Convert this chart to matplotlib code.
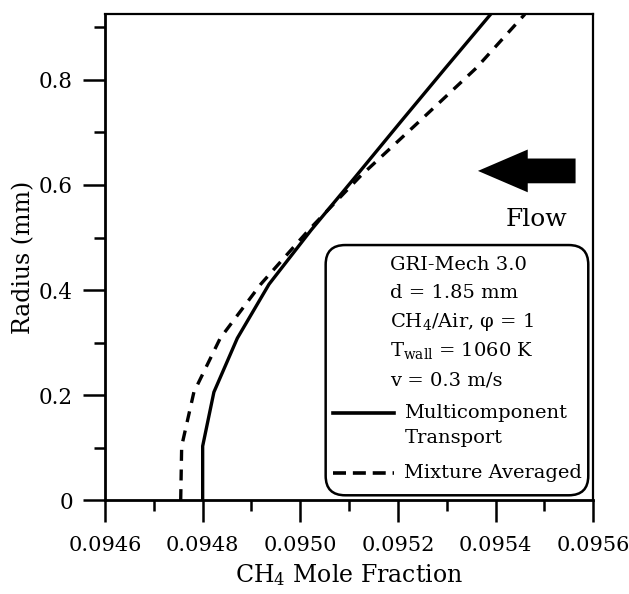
import numpy as np
import matplotlib
matplotlib.use("Agg")
import matplotlib.pyplot as plt
import matplotlib.patches as mpatches
from matplotlib.ticker import FixedLocator, FuncFormatter

plt.rcParams['font.family'] = ['DejaVu Serif']
plt.rcParams['mathtext.fontset'] = 'dejavuserif'

# radial grid points (tube radius 0.925 mm)
radius = [0.0, 0.1028, 0.2056, 0.3083, 0.4111, 0.5139, 0.6167, 0.7194, 0.8222, 0.925]
# CH4 mole fraction, multicomponent transport
ch4_multi = [0.09480, 0.09480, 0.094823, 0.094871, 0.094936, 0.095022, 0.095114, 0.095205, 0.095297, 0.09539]
# CH4 mole fraction, mixture averaged
ch4_mix = [0.094755, 0.094757, 0.094782, 0.094836, 0.094919, 0.095017, 0.095123, 0.095242, 0.095360, 0.09546]

x_ticks = [0.0946, 0.0948, 0.0950, 0.0952, 0.0954, 0.0956]
y_ticks = [0, 0.2, 0.4, 0.6, 0.8]

info_lines = ['GRI-Mech 3.0', 'd = 1.85 mm', 'CH$_4$/Air, \u03c6 = 1',
              'T$_{\\rm wall}$ = 1060 K', 'v = 0.3 m/s']

fig = plt.figure(figsize=(6.29, 5.94), dpi=100)
ax = fig.add_axes([0.167, 0.158, 0.776, 0.818])

ax.plot(ch4_multi, radius, color='black', lw=2.4, solid_joinstyle='miter')
ax.plot(ch4_mix, radius, color='black', lw=2.4, linestyle=(0, (3.3, 2.6)))

ax.set_xlim(0.0946, 0.0956)
ax.set_ylim(0, 0.925)

ax.xaxis.set_major_locator(FixedLocator(x_ticks))
ax.xaxis.set_minor_locator(FixedLocator([0.0947, 0.0949, 0.0951, 0.0953, 0.0955]))
ax.yaxis.set_major_locator(FixedLocator(y_ticks))
ax.yaxis.set_minor_locator(FixedLocator([0.1, 0.3, 0.5, 0.7, 0.9]))
ax.xaxis.set_major_formatter(FuncFormatter(lambda v, p: '%.4f' % v))
ax.yaxis.set_major_formatter(FuncFormatter(lambda v, p: '0' if v == 0 else '%.1f' % v))

ax.tick_params(which='both', direction='out', width=1.8, labelsize=15.5, top=False, right=False)
ax.tick_params(axis='x', labelsize=15)
ax.tick_params(which='major', length=16)
ax.tick_params(which='minor', length=8)
ax.tick_params(axis='x', which='major', pad=10)
ax.tick_params(axis='y', which='major', pad=7)
for side in ['left', 'bottom']:
    ax.spines[side].set_linewidth(2.0)
for side in ['top', 'right']:
    ax.spines[side].set_linewidth(1.6)

ax.set_xlabel('CH$_4$ Mole Fraction', fontsize=17, labelpad=5)
ax.set_ylabel('Radius (mm)', fontsize=17, labelpad=3)

# flow arrow
arrow = mpatches.FancyArrow(0.964, 0.6776, -0.2, 0, width=0.051, head_width=0.088,
                            head_length=0.102, length_includes_head=True,
                            transform=ax.transAxes, color='black', lw=0)
ax.add_patch(arrow)
ax.text(0.883, 0.564, 'Flow', transform=ax.transAxes, fontsize=18,
        ha='center', va='baseline')

# info / legend box
box = mpatches.FancyBboxPatch((0.452, 0.010), 0.538, 0.515,
                              boxstyle='round,pad=0,rounding_size=0.04',
                              transform=ax.transAxes, facecolor='white',
                              edgecolor='black', lw=1.8, zorder=3)
ax.add_patch(box)
info_y = [0.4835, 0.427, 0.367, 0.307, 0.247]
for t, yy in zip(info_lines, info_y):
    ax.text(0.5845, yy, t, transform=ax.transAxes, fontsize=14,
            ha='left', va='center', zorder=4)

ax.plot([0.468, 0.591], [0.18, 0.18], transform=ax.transAxes, color='black',
        lw=2.6, zorder=4, clip_on=False)
ax.text(0.613, 0.18, 'Multicomponent', transform=ax.transAxes, fontsize=14,
        ha='left', va='center', zorder=4)
ax.text(0.613, 0.127, 'Transport', transform=ax.transAxes, fontsize=14,
        ha='left', va='center', zorder=4)
ax.plot([0.468, 0.591], [0.0566, 0.0566], transform=ax.transAxes, color='black',
        lw=2.6, linestyle=(0, (3.6, 1.9)), zorder=4, clip_on=False)
ax.text(0.613, 0.0566, 'Mixture Averaged', transform=ax.transAxes, fontsize=14,
        ha='left', va='center', zorder=4)

fig.savefig('out.png', dpi=100)
